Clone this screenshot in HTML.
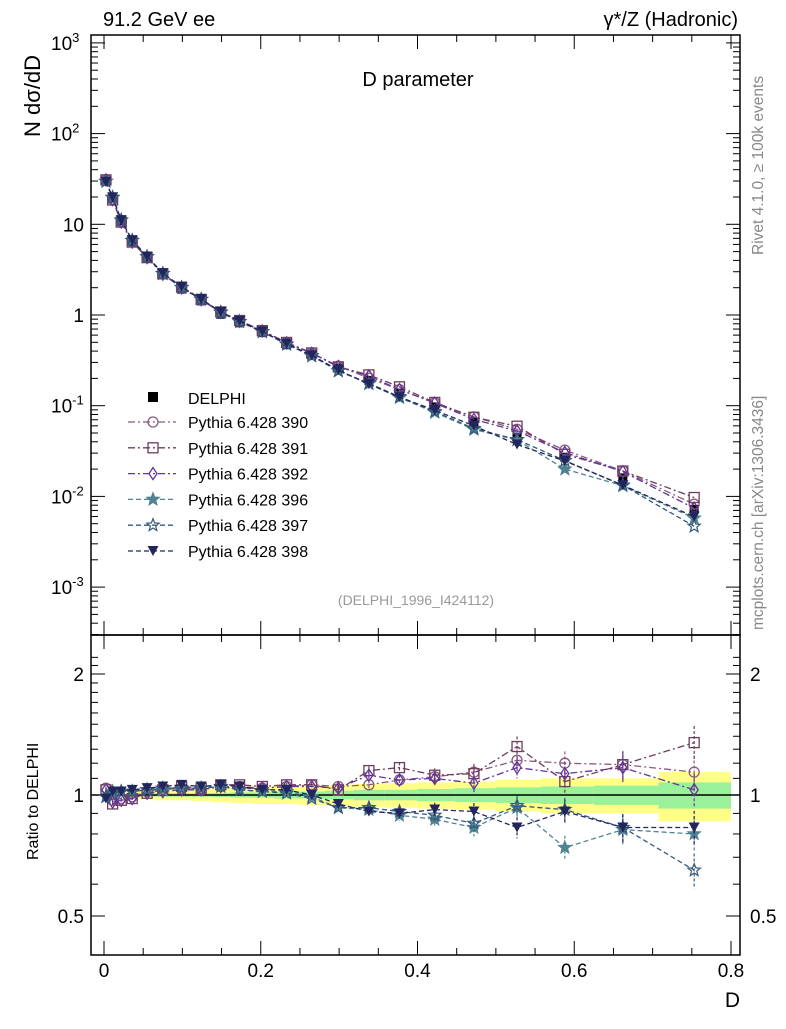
<!DOCTYPE html>
<html><head><meta charset="utf-8"><style>
body{margin:0;background:#fff;width:786px;height:1024px;overflow:hidden}
svg{font-family:"Liberation Sans",sans-serif}
</style></head><body>
<svg id="c" width="786" height="1024" xmlns="http://www.w3.org/2000/svg"></svg>
<script>
const xVals=[0.0025,0.011,0.022,0.036,0.055,0.075,0.099,0.124,0.149,0.173,0.202,0.233,0.265,0.299,0.338,0.377,0.422,0.472,0.527,0.588,0.662,0.753];
const dataVals=[30,19.5,10.9,6.5,4.25,2.76,1.93,1.43,1.02,0.82,0.64,0.47,0.36,0.26,0.19,0.138,0.097,0.066,0.045,0.027,0.016,0.0072];
const statErr=[0,0,0,0.01,0.01,0.01,0.01,0.01,0.012,0.015,0.015,0.02,0.02,0.025,0.03,0.03,0.035,0.04,0.045,0.05,0.055,0.075];
const totErr=[0,0,0,0.02,0.025,0.03,0.03,0.035,0.04,0.045,0.05,0.05,0.055,0.06,0.065,0.07,0.075,0.08,0.09,0.1,0.1,0.14];
const mcErr=[0.01,0.01,0.01,0.01,0.01,0.01,0.01,0.01,0.01,0.01,0.01,0.012,0.015,0.02,0.025,0.03,0.04,0.05,0.06,0.07,0.08,0.1];
const r390=[1.04,0.97,0.98,0.99,1.02,1.03,1.04,1.03,1.05,1.05,1.04,1.05,1.06,1.05,1.06,1.09,1.11,1.14,1.22,1.20,1.19,1.14];
const r391=[1.03,0.95,0.97,0.98,1.01,1.03,1.05,1.04,1.06,1.06,1.05,1.06,1.06,1.03,1.15,1.17,1.12,1.13,1.32,1.08,1.19,1.35];
const r392=[1.03,0.96,0.97,0.98,1.01,1.02,1.03,1.03,1.05,1.04,1.04,1.05,1.05,1.04,1.12,1.09,1.10,1.07,1.17,1.13,1.17,1.03];
const r396=[0.99,1.02,1.02,1.02,1.03,1.03,1.04,1.04,1.05,1.03,1.02,1.02,0.99,0.93,0.92,0.89,0.87,0.83,0.93,0.74,0.82,0.80];
const r397=[0.99,1.01,1.02,1.02,1.03,1.04,1.04,1.04,1.05,1.03,1.02,1.01,0.98,0.93,0.93,0.91,0.89,0.85,0.94,0.92,0.83,0.65];
const r398=[0.98,1.02,1.02,1.03,1.04,1.05,1.06,1.05,1.06,1.05,1.03,1.03,1.00,0.95,0.91,0.90,0.92,0.91,0.83,0.91,0.83,0.83];
const seriesNames=["Pythia 6.428 390","Pythia 6.428 391","Pythia 6.428 392","Pythia 6.428 396","Pythia 6.428 397","Pythia 6.428 398"];
const yTickLabels=["10","10","10","1","10","10","10"];

const svg=document.getElementById('c');const NS="http://www.w3.org/2000/svg";
function mk(t,a,p){const e=document.createElementNS(NS,t);for(const k in a)e.setAttribute(k,a[k]);(p||svg).appendChild(e);return e;}
const L=91,R=740,T=35,MB=635,RB=955;
const X=v=>104+v*783.75;
const Y=v=>315-90.7*Math.log10(v);
const YR=r=>795-121*Math.log2(r);
const series=[
 {r:r390,c:"#8a5a7e",m:"circle",d:"7,3,2,3"},
 {r:r391,c:"#6e3d5c",m:"square",d:"7,3,2,3"},
 {r:r392,c:"#63359a",m:"diamond",d:"7,3,2,3"},
 {r:r396,c:"#4f8393",m:"starf",d:"5,3"},
 {r:r397,c:"#36597a",m:"star",d:"5,3"},
 {r:r398,c:"#22265c",m:"tri",d:"5,3"}];
function marker(type,x,y,c,g){
 let e;
 if(type==="circle")e=mk('circle',{cx:x,cy:y,r:5,fill:'none',stroke:c,'stroke-width':1.3},g);
 else if(type==="square")e=mk('rect',{x:x-5,y:y-5,width:10,height:10,fill:'none',stroke:c,'stroke-width':1.3},g);
 else if(type==="diamond")e=mk('polygon',{points:`${x},${y-6} ${x+4},${y} ${x},${y+6} ${x-4},${y}`,fill:'none',stroke:c,'stroke-width':1.3},g);
 else if(type==="tri")e=mk('polygon',{points:`${x-5.5},${y-5} ${x+5.5},${y-5} ${x},${y+5}`,fill:c},g);
 else{let p=[];for(let i=0;i<10;i++){const a=-Math.PI/2+i*Math.PI/5,rr=i%2?2.8:6.5;p.push((x+rr*Math.cos(a)).toFixed(1)+","+(y+rr*Math.sin(a)).toFixed(1));}
  e=mk('polygon',{points:p.join(' '),fill:type==="starf"?c:'none',stroke:c,'stroke-width':1.2},g);}
 
}
const bandG=mk('g',{});
for(let i=0;i<xVals.length;i++){
 const x0=i===0?L:(X(xVals[i-1])+X(xVals[i]))/2, x1=i===xVals.length-1?X(0.8):(X(xVals[i])+X(xVals[i+1]))/2;
 if(totErr[i]>0)mk('rect',{x:x0,y:YR(1+totErr[i]),width:x1-x0,height:YR(1-totErr[i])-YR(1+totErr[i]),fill:'#ffff88'},bandG);
 if(statErr[i]>0)mk('rect',{x:x0,y:YR(1+statErr[i]),width:x1-x0,height:YR(1-statErr[i])-YR(1+statErr[i]),fill:'#99f299'},bandG);
}
mk('line',{x1:L,x2:R,y1:YR(1),y2:YR(1),stroke:'#000','stroke-width':1.5});
mk('rect',{x:L,y:T,width:R-L,height:MB-T,fill:'none',stroke:'#000','stroke-width':1.5});
mk('rect',{x:L,y:MB,width:R-L,height:RB-MB,fill:'none',stroke:'#000','stroke-width':1.5});
for(let e=-4;e<=3;e++)for(let k=1;k<10;k++){const v=k*Math.pow(10,e),y=Y(v);if(y<T||y>MB)continue;const len=k===1?14:7;
 mk('line',{x1:L,x2:L+len,y1:y,y2:y,stroke:'#000'});mk('line',{x1:R,x2:R-len,y1:y,y2:y,stroke:'#000'});}
const exps=[3,2,1,0,-1,-2,-3];
exps.forEach((e,i)=>{const y=Y(Math.pow(10,e));const simple=(e===1||e===0);
 const t=mk('text',{x:simple?84:51,y:y+7,'font-size':19,'text-anchor':simple?'end':'start'});
 
 const base=mk('tspan',{},t);base.textContent=yTickLabels[i];
 if(!simple){const s=mk('tspan',{dy:-8,'font-size':13},t);s.textContent=String(e);}});
[0.5,0.6,0.7,0.8,0.9,1,1.1,1.2,1.3,1.4,1.5,1.6,1.7,1.8,1.9,2,2.1,2.2].forEach(v=>{const y=YR(v);if(y<MB||y>RB)return;const big=[0.5,1,2].includes(v);const len=big?14:7;
 mk('line',{x1:L,x2:L+len,y1:y,y2:y,stroke:'#000'});mk('line',{x1:R,x2:R-len,y1:y,y2:y,stroke:'#000'});});
[["2",2],["1",1],["0.5",0.5]].forEach(([s,v])=>{const y=YR(v)+7;const a=mk('text',{x:84,y,'font-size':19,'text-anchor':'end'});a.textContent=s;
 const b=mk('text',{x:750,y,'font-size':19});b.textContent=s;});
for(let i=0;i<=16;i++){const v=i*0.05,x=X(v);if(x>R)continue;const len=i%4===0?14:7;
 [[T,1],[MB,-1],[MB,1],[RB,-1]].forEach(([y0,s])=>mk('line',{x1:x,x2:x,y1:y0,y2:y0+s*len,stroke:'#000'}));}
["0","0.2","0.4","0.6","0.8"].forEach((s,i)=>{const t=mk('text',{x:X(i*0.2),y:977,'font-size':19,'text-anchor':'middle'});t.textContent=s;});
// data points (drawn under MC)
const dg=mk('g',{});
xVals.forEach((x,i)=>{const r=mk('rect',{x:X(x)-4.5,y:Y(dataVals[i])-4.5,width:9,height:9,fill:'#000'},dg);});
series.forEach((s,si)=>{
 const g=mk('g',{});
 const pm=xVals.map((x,i)=>X(x)+","+Y(dataVals[i]*s.r[i]).toFixed(1)).join(' ');
 mk('polyline',{points:pm,fill:'none',stroke:s.c,'stroke-width':1.3,'stroke-dasharray':s.d},g);
 const pr=xVals.map((x,i)=>X(x)+","+YR(s.r[i]).toFixed(1)).join(' ');
 mk('polyline',{points:pr,fill:'none',stroke:s.c,'stroke-width':1.3,'stroke-dasharray':s.d},g);
 xVals.forEach((x,i)=>{const px=X(x);
  marker(s.m,px,Y(dataVals[i]*s.r[i]),s.c,g);
  const y0=YR(s.r[i]*(1+mcErr[i])),y1=YR(s.r[i]*(1-mcErr[i]));
  mk('line',{x1:px,x2:px,y1:y0,y2:y1,stroke:s.c,'stroke-width':1.2,'stroke-dasharray':'3,2'},g);
  marker(s.m,px,YR(s.r[i]),s.c,g);});
});
const lg=mk('g',{});
mk('rect',{x:148,y:392,width:10,height:10,fill:'#000'},lg);
let t=mk('text',{x:188,y:404,'font-size':16},lg);t.textContent="DELPHI";
series.forEach((s,i)=>{const y=422+i*25.8;
 mk('line',{x1:128,x2:176,y1:y,y2:y,stroke:s.c,'stroke-width':1.3,'stroke-dasharray':s.d},lg);
 marker(s.m,153,y,s.c,lg);
 const tt=mk('text',{x:188,y:y+6,'font-size':16},lg);tt.textContent=seriesNames[i];
 });
function txt(s,a,name){const e=mk('text',a);e.textContent=s;return e;}
txt("91.2 GeV ee",{x:103,y:26,'font-size':20},'energy-label');
txt("γ*/Z (Hadronic)",{x:738,y:26,'font-size':20,'text-anchor':'end'},'process-label');
txt("D parameter",{x:418,y:86,'font-size':20,'text-anchor':'middle'},'plot-title');
txt("N   dσ/dD",{x:0,y:0,'font-size':22,transform:'translate(40,137) rotate(-90)','xml:space':'preserve'},'y-axis-title');
txt("Ratio to DELPHI",{x:0,y:0,'font-size':16,transform:'translate(38,860) rotate(-90)'},'ratio-axis-title');
txt("D",{x:740,y:1007,'font-size':21,'text-anchor':'end'},'x-axis-title');
txt("Rivet 4.1.0, ≥ 100k events",{x:0,y:0,'font-size':15.5,fill:'#888',transform:'translate(763,255) rotate(-90)'},'rivet-label');
txt("mcplots.cern.ch [arXiv:1306.3436]",{x:0,y:0,'font-size':15.5,fill:'#888',transform:'translate(763,630) rotate(-90)'},'mcplots-label');
txt("(DELPHI_1996_I424112)",{x:416,y:605,'font-size':14,fill:'#999','text-anchor':'middle'},'analysis-id');
</script>
</body></html>
